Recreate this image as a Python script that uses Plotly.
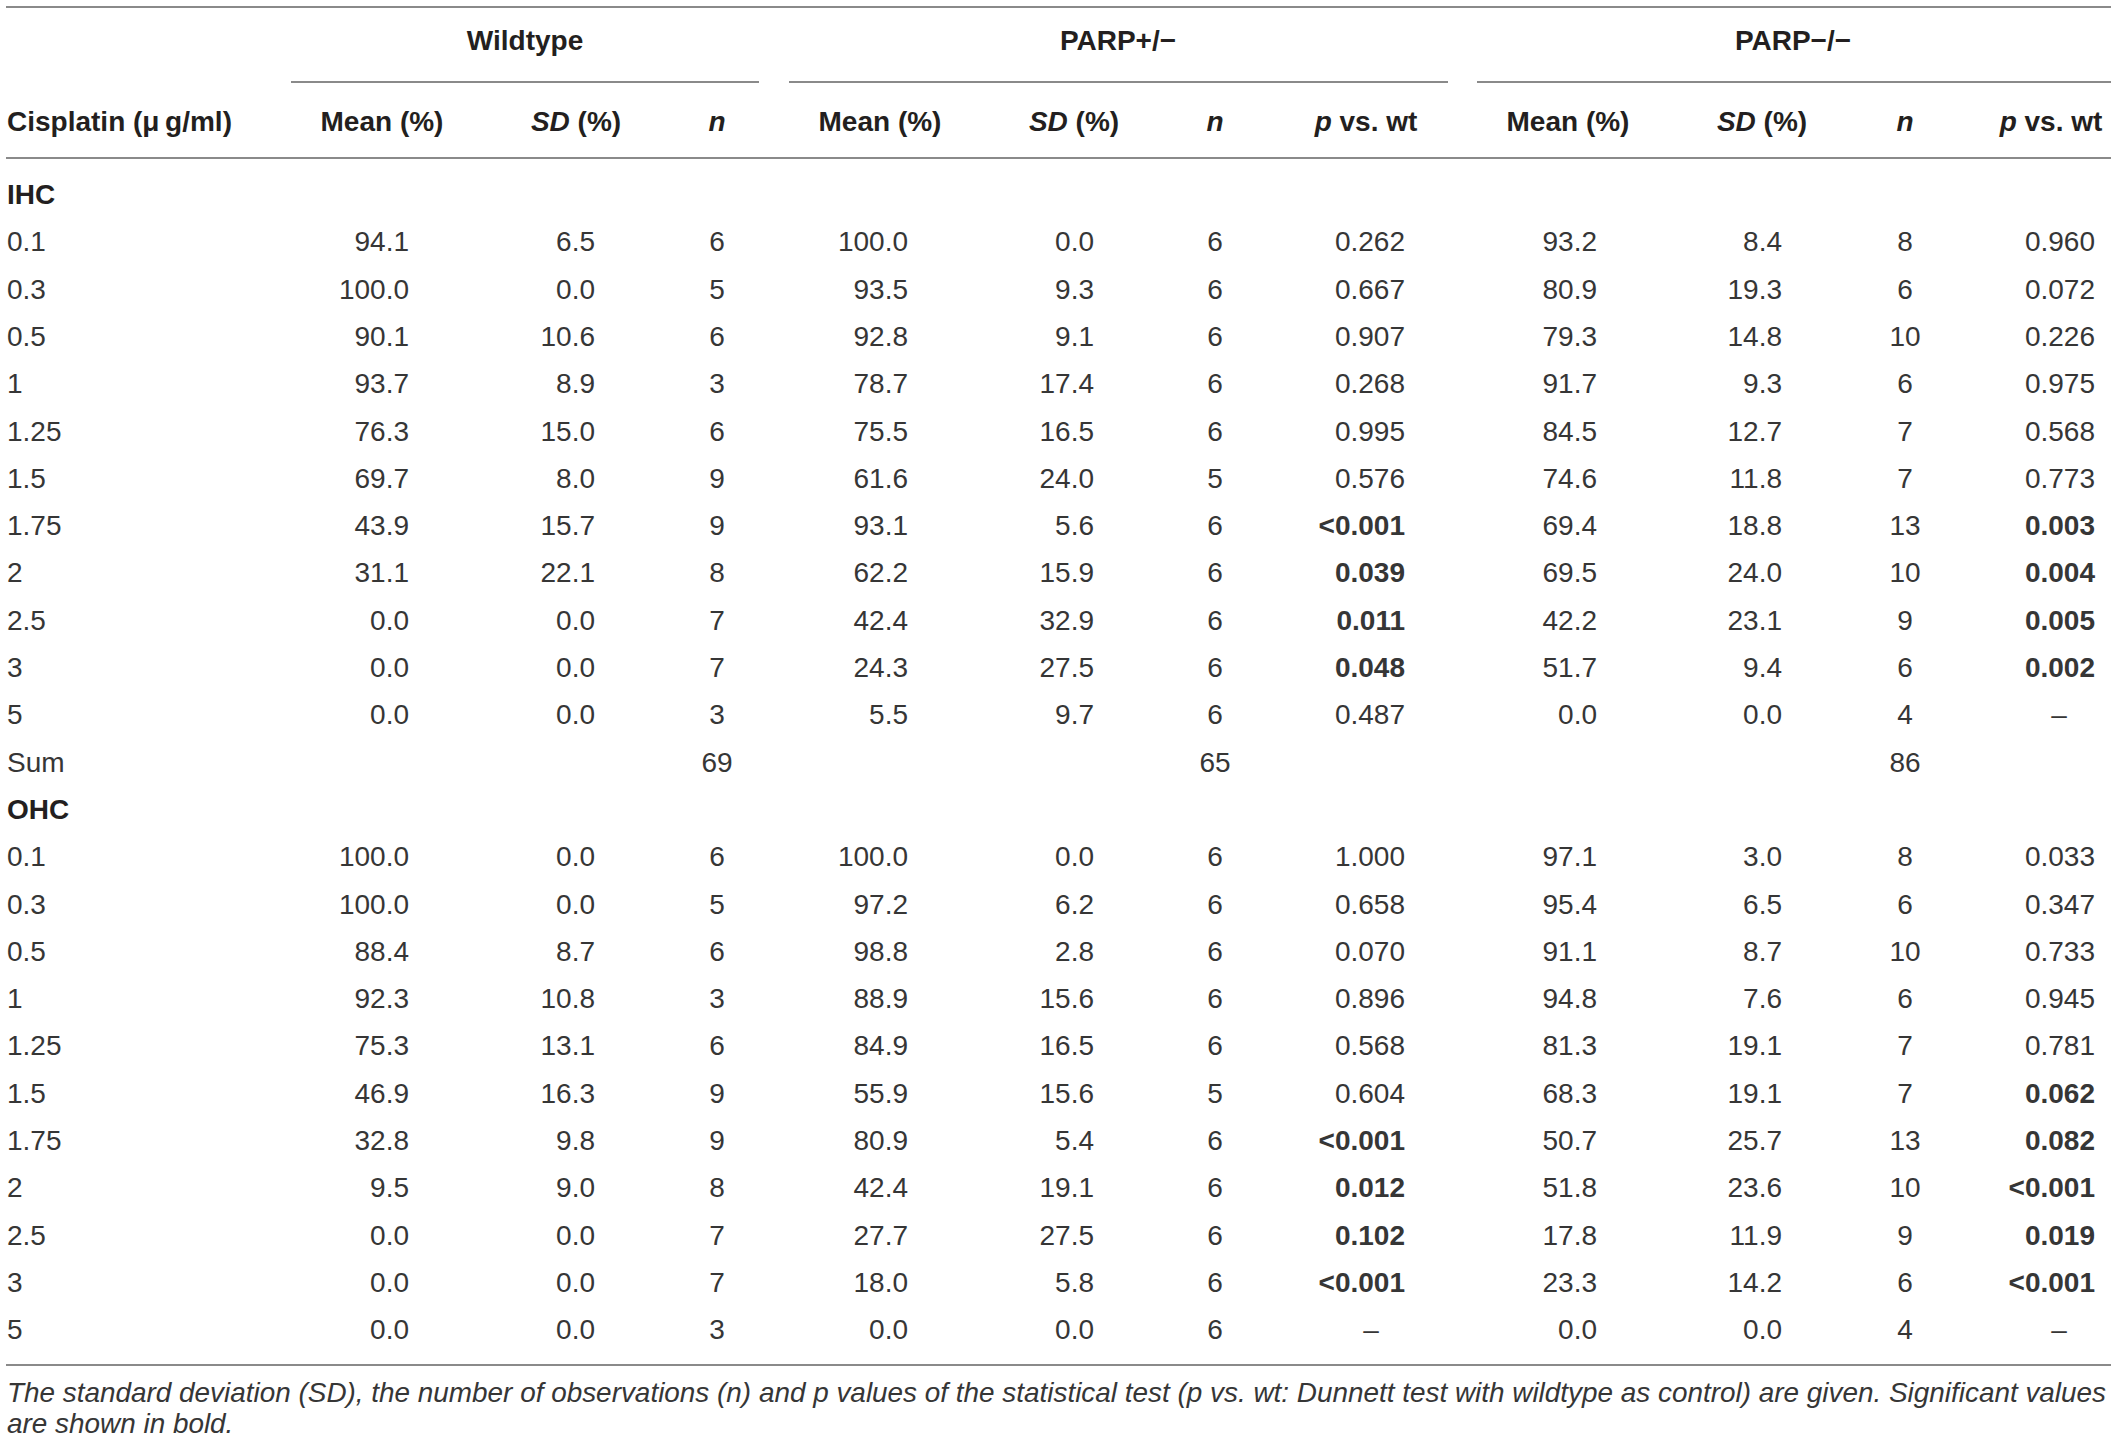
import plotly.graph_objects as go

# ---- data ----
conc = ["0.1", "0.3", "0.5", "1", "1.25", "1.5", "1.75", "2", "2.5", "3", "5"]

ihc_wt_mean = [94.1, 100.0, 90.1, 93.7, 76.3, 69.7, 43.9, 31.1, 0.0, 0.0, 0.0]
ihc_wt_sd = [6.5, 0.0, 10.6, 8.9, 15.0, 8.0, 15.7, 22.1, 0.0, 0.0, 0.0]
ihc_wt_n = [6, 5, 6, 3, 6, 9, 9, 8, 7, 7, 3]
ihc_het_mean = [100.0, 93.5, 92.8, 78.7, 75.5, 61.6, 93.1, 62.2, 42.4, 24.3, 5.5]
ihc_het_sd = [0.0, 9.3, 9.1, 17.4, 16.5, 24.0, 5.6, 15.9, 32.9, 27.5, 9.7]
ihc_het_n = [6, 6, 6, 6, 6, 5, 6, 6, 6, 6, 6]
ihc_het_p = ["0.262", "0.667", "0.907", "0.268", "0.995", "0.576", "<0.001", "0.039", "0.011", "0.048", "0.487"]
ihc_het_sig = [0, 0, 0, 0, 0, 0, 1, 1, 1, 1, 0]
ihc_ko_mean = [93.2, 80.9, 79.3, 91.7, 84.5, 74.6, 69.4, 69.5, 42.2, 51.7, 0.0]
ihc_ko_sd = [8.4, 19.3, 14.8, 9.3, 12.7, 11.8, 18.8, 24.0, 23.1, 9.4, 0.0]
ihc_ko_n = [8, 6, 10, 6, 7, 7, 13, 10, 9, 6, 4]
ihc_ko_p = ["0.960", "0.072", "0.226", "0.975", "0.568", "0.773", "0.003", "0.004", "0.005", "0.002", "–"]
ihc_ko_sig = [0, 0, 0, 0, 0, 0, 1, 1, 1, 1, 0]

ohc_wt_mean = [100.0, 100.0, 88.4, 92.3, 75.3, 46.9, 32.8, 9.5, 0.0, 0.0, 0.0]
ohc_wt_sd = [0.0, 0.0, 8.7, 10.8, 13.1, 16.3, 9.8, 9.0, 0.0, 0.0, 0.0]
ohc_wt_n = [6, 5, 6, 3, 6, 9, 9, 8, 7, 7, 3]
ohc_het_mean = [100.0, 97.2, 98.8, 88.9, 84.9, 55.9, 80.9, 42.4, 27.7, 18.0, 0.0]
ohc_het_sd = [0.0, 6.2, 2.8, 15.6, 16.5, 15.6, 5.4, 19.1, 27.5, 5.8, 0.0]
ohc_het_n = [6, 6, 6, 6, 6, 5, 6, 6, 6, 6, 6]
ohc_het_p = ["1.000", "0.658", "0.070", "0.896", "0.568", "0.604", "<0.001", "0.012", "0.102", "<0.001", "–"]
ohc_het_sig = [0, 0, 0, 0, 0, 0, 1, 1, 1, 1, 0]
ohc_ko_mean = [97.1, 95.4, 91.1, 94.8, 81.3, 68.3, 50.7, 51.8, 17.8, 23.3, 0.0]
ohc_ko_sd = [3.0, 6.5, 8.7, 7.6, 19.1, 19.1, 25.7, 23.6, 11.9, 14.2, 0.0]
ohc_ko_n = [8, 6, 10, 6, 7, 7, 13, 10, 9, 6, 4]
ohc_ko_p = ["0.033", "0.347", "0.733", "0.945", "0.781", "0.062", "0.082", "<0.001", "0.019", "<0.001", "–"]
ohc_ko_sig = [0, 0, 0, 0, 0, 1, 1, 1, 1, 1, 0]

groups = ["Wildtype", "PARP+/−", "PARP−/−"]
sections = ["IHC", "OHC"]
sum_label = "Sum"
caption = [
    "The standard deviation (SD), the number of observations (n) and p values of the statistical test "
    "(p vs. wt: Dunnett test with wildtype as control) are given. Significant values",
    "are shown in bold.",
]

# ---- layout constants (pixels) ----
W, H = 2118, 1446
FONT = "Liberation Sans, Arial, sans-serif"
BODY = "#363636"
HEAD = "#231f20"
LINE = "#8a8a8a"
FS = 28
Y0, PITCH = 197, 47.3
LEFT = 7


def row_y(i):
    return Y0 + PITCH * i


ihc_rows = [row_y(1 + k) for k in range(len(conc))]
ohc_rows = [row_y(14 + k) for k in range(len(conc))]

fig = go.Figure()


def add_text(xs, ys, texts, pos, size=FS, color=BODY):
    fig.add_trace(go.Scatter(
        x=xs, y=ys, mode="text", text=texts, textposition=pos,
        textfont=dict(family=FONT, size=size, color=color),
        hoverinfo="skip", showlegend=False, cliponaxis=False,
    ))


def num_col(x, ys, vals, fmt="{:.1f}"):
    add_text([x] * len(ys), ys, [fmt.format(v) for v in vals], "middle left")


def n_col(x, ys, vals):
    add_text([x] * len(ys), ys, [str(v) for v in vals], "middle center")


def p_col(x, xdash, ys, vals, sig):
    keep = [(y, v, s) for y, v, s in zip(ys, vals, sig) if v != "–"]
    txt = [("<b>%s</b>" if s else "%s") % v.replace("<", "&lt;") for _, v, s in keep]
    add_text([x] * len(keep), [k[0] for k in keep], txt, "middle left")
    dash = [y for y, v in zip(ys, vals) if v == "–"]
    add_text([xdash] * len(dash), dash, ["–"] * len(dash), "middle center")


# column anchors (right edges for numbers, centres for n and headers)
cols = {
    "wt": dict(mean=409, sd=595, n=717),
    "het": dict(mean=908, sd=1094, n=1215, p=1405, dash=1371),
    "ko": dict(mean=1597, sd=1782, n=1905, p=2095, dash=2059),
}

sec_data = [
    (ihc_rows, ihc_wt_mean, ihc_wt_sd, ihc_wt_n, ihc_het_mean, ihc_het_sd, ihc_het_n, ihc_het_p, ihc_het_sig,
     ihc_ko_mean, ihc_ko_sd, ihc_ko_n, ihc_ko_p, ihc_ko_sig),
    (ohc_rows, ohc_wt_mean, ohc_wt_sd, ohc_wt_n, ohc_het_mean, ohc_het_sd, ohc_het_n, ohc_het_p, ohc_het_sig,
     ohc_ko_mean, ohc_ko_sd, ohc_ko_n, ohc_ko_p, ohc_ko_sig),
]

for (ys, wm, wsd, wn, hm, hsd, hn, hp, hs, km, ksd, kn, kp, ks) in sec_data:
    add_text([LEFT] * len(ys), ys, conc, "middle right")
    num_col(cols["wt"]["mean"], ys, wm)
    num_col(cols["wt"]["sd"], ys, wsd)
    n_col(cols["wt"]["n"], ys, wn)
    num_col(cols["het"]["mean"], ys, hm)
    num_col(cols["het"]["sd"], ys, hsd)
    n_col(cols["het"]["n"], ys, hn)
    p_col(cols["het"]["p"], cols["het"]["dash"], ys, hp, hs)
    num_col(cols["ko"]["mean"], ys, km)
    num_col(cols["ko"]["sd"], ys, ksd)
    n_col(cols["ko"]["n"], ys, kn)
    p_col(cols["ko"]["p"], cols["ko"]["dash"], ys, kp, ks)

# section titles and the IHC sum row
add_text([LEFT, LEFT], [row_y(0), row_y(13)], ["<b>%s</b>" % s for s in sections], "middle right", color=HEAD)
add_text([LEFT], [row_y(12)], [sum_label], "middle right")
add_text([cols["wt"]["n"], cols["het"]["n"], cols["ko"]["n"]], [row_y(12)] * 3,
         [str(sum(ihc_wt_n)), str(sum(ihc_het_n)), str(sum(ihc_ko_n))], "middle center")

# headers
HY1, HY2 = 43, 124
add_text([525, 1118, 1793], [HY1] * 3, ["<b>%s</b>" % g for g in groups], "middle center", color=HEAD)
add_text([LEFT], [HY2], ["<b>Cisplatin (μ\u2009g/ml)</b>"], "middle right", color=HEAD)
head_x = [382, 576, 717, 880, 1074, 1215, 1366, 1568, 1762, 1905, 2051]
head_t = ["Mean (%)", "<i>SD</i> (%)", "<i>n</i>",
          "Mean (%)", "<i>SD</i> (%)", "<i>n</i>", "<i>p</i> vs. wt",
          "Mean (%)", "<i>SD</i> (%)", "<i>n</i>", "<i>p</i> vs. wt"]
add_text(head_x, [HY2] * len(head_x), ["<b>%s</b>" % t for t in head_t], "middle center", color=HEAD)

# caption
add_text([LEFT, LEFT], [1395, 1426], ["<i>%s</i>" % c for c in caption], "middle right", size=27.9, color=BODY)

# rules
rules = [(6, 2111, 7), (291, 759, 82), (789, 1448, 82), (1477, 2111, 82), (6, 2111, 158), (6, 2111, 1365)]
for x0, x1, y in rules:
    fig.add_shape(type="line", x0=x0, x1=x1, y0=y, y1=y, xref="x", yref="y",
                  line=dict(color=LINE, width=2))

fig.update_layout(
    width=W, height=H,
    margin=dict(l=0, r=0, t=0, b=0),
    paper_bgcolor="white", plot_bgcolor="white",
    xaxis=dict(range=[0, W], visible=False, fixedrange=True),
    yaxis=dict(range=[H, 0], visible=False, fixedrange=True),
)

fig.write_html("out.html", config={"displayModeBar": False},
               post_script="document.body.style.margin='0';document.body.style.overflow='hidden';")
